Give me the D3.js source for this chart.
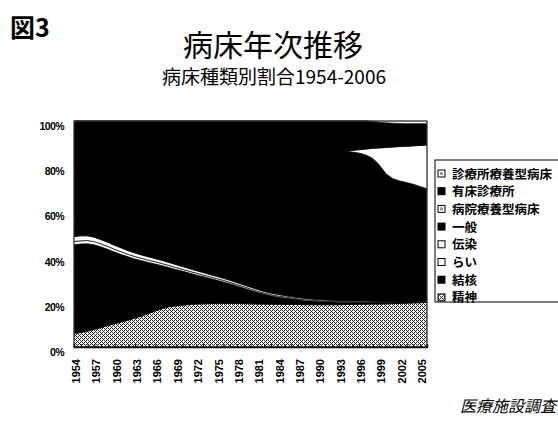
<!DOCTYPE html>
<html>
<head>
<meta charset="utf-8">
<script src="https://cdn.jsdelivr.net/npm/d3@7"></script>
<style>
  body { margin: 0; background: #fff; }
  text { font-family: "Noto Sans CJK JP", "Noto Sans", sans-serif; }
  .num { font-family: "Liberation Sans", Arial, sans-serif; font-weight: bold; }
</style>
</head>
<body>
<svg width="558" height="423"></svg>
<script>
const years = [1954, 1955, 1956, 1957, 1958, 1959, 1960, 1961, 1962, 1963,
  1964, 1965, 1966, 1967, 1968, 1969, 1970, 1971, 1972, 1973,
  1974, 1975, 1976, 1977, 1978, 1979, 1980, 1981, 1982, 1983,
  1984, 1985, 1986, 1987, 1988, 1989, 1990, 1991, 1992, 1993,
  1994, 1995, 1996, 1997, 1998, 1999, 2000, 2001, 2002, 2003,
  2004, 2005, 2006];
const tickYears = [1954, 1957, 1960, 1963, 1966, 1969, 1972, 1975, 1978,
  1981, 1984, 1987, 1990, 1993, 1996, 1999, 2002, 2005];
const yTicks = [0, 20, 40, 60, 80, 100];

// stacked from bottom to top
const seriesNames = ["精神", "結核", "らい", "伝染", "一般", "病院療養型病床", "有床診療所", "診療所療養型病床"];

// share of beds, %
const seishin = [6.0, 6.4, 7.0, 7.8, 8.6, 9.5, 10.3, 11.1, 11.9, 12.8,
  13.7, 14.8, 16.0, 17.0, 17.8, 18.2, 18.5, 18.8, 19.0, 19.1,
  19.2, 19.3, 19.3, 19.3, 19.3, 19.2, 19.1, 19.0, 19.0, 18.9,
  18.9, 18.8, 18.8, 18.8, 18.7, 18.7, 18.7, 18.7, 18.7, 18.7,
  18.8, 18.8, 18.9, 18.9, 19.0, 19.0, 19.1, 19.2, 19.3, 19.4,
  19.5, 19.6, 19.7];
const kekkaku = [39.3, 39.2, 38.7, 37.4, 35.7, 33.7, 31.7, 29.8, 28.0, 26.1,
  24.5, 22.6, 20.7, 19.0, 17.4, 16.1, 15.1, 13.9, 12.9, 12.1,
  11.2, 10.3, 9.5, 8.7, 7.7, 6.9, 6.0, 5.2, 4.4, 3.8,
  3.2, 2.9, 2.5, 2.1, 1.8, 1.6, 1.4, 1.3, 1.2, 1.1,
  1.0, 0.9, 0.8, 0.7, 0.8, 0.8, 0.7, 0.6, 0.6, 0.5,
  0.5, 0.4, 0.4];
const rai = [1.4, 1.4, 1.4, 1.4, 1.3, 1.3, 1.2, 1.2, 1.1, 1.1,
  1.0, 1.0, 1.0, 0.9, 0.9, 0.9, 0.8, 0.8, 0.8, 0.7,
  0.7, 0.7, 0.7, 0.6, 0.6, 0.6, 0.6, 0.5, 0.5, 0.5,
  0.5, 0.5, 0.4, 0.4, 0.4, 0.4, 0.4, 0.3, 0.3, 0.3,
  0.3, 0.3, 0.3, 0.3, 0.2, 0.2, 0.2, 0.2, 0.2, 0.2,
  0.2, 0.2, 0.2];
const densen = [2.2, 2.2, 2.1, 2.0, 1.9, 1.8, 1.8, 1.7, 1.6, 1.6,
  1.5, 1.5, 1.4, 1.4, 1.3, 1.3, 1.2, 1.2, 1.1, 1.1,
  1.0, 1.0, 0.9, 0.9, 0.9, 0.8, 0.8, 0.8, 0.7, 0.7,
  0.7, 0.6, 0.6, 0.6, 0.6, 0.5, 0.5, 0.5, 0.5, 0.5,
  0.4, 0.4, 0.4, 0.4, 0.3, 0.2, 0.2, 0.2, 0.1, 0.1,
  0.1, 0.1, 0.1];
const ippan = [31.1, 31.1, 31.3, 32.1, 33.3, 34.6, 36.0, 37.2, 38.5, 39.5,
  40.5, 41.4, 42.3, 43.2, 44.2, 45.2, 46.2, 47.3, 48.3, 49.3,
  50.4, 51.4, 52.5, 53.6, 54.8, 56.0, 57.2, 58.5, 59.7, 60.7,
  61.6, 62.4, 63.2, 63.9, 64.5, 65.0, 65.4, 65.7, 65.9, 66.1,
  66.2, 65.9, 65.4, 64.7, 63.2, 60.3, 56.3, 54.3, 53.3, 52.6,
  51.7, 50.7, 49.6];
const byoinRyoyo = [0, 0, 0, 0, 0, 0, 0, 0, 0, 0,
  0, 0, 0, 0, 0, 0, 0, 0, 0, 0,
  0, 0, 0, 0, 0, 0, 0, 0, 0, 0,
  0, 0, 0, 0, 0, 0, 0, 0, 0, 0,
  0, 0.7, 1.5, 2.6, 4.4, 7.6, 11.8, 14.0, 15.2, 16.0,
  17.0, 18.2, 19.4];
const yushoShinryo = [20.0, 19.7, 19.5, 19.3, 19.2, 19.1, 19.0, 19.0, 18.9, 18.9,
  18.8, 18.7, 18.6, 18.5, 18.4, 18.3, 18.2, 18.0, 17.9, 17.7,
  17.5, 17.3, 17.1, 16.9, 16.7, 16.5, 16.3, 16.0, 15.7, 15.4,
  15.1, 14.8, 14.5, 14.2, 14.0, 13.8, 13.6, 13.5, 13.4, 13.3,
  13.3, 13.0, 12.7, 12.4, 11.9, 11.4, 10.9, 10.5, 10.2, 10.0,
  9.8, 9.6, 9.4];
const shinryoRyoyo = [0, 0, 0, 0, 0, 0, 0, 0, 0, 0,
  0, 0, 0, 0, 0, 0, 0, 0, 0, 0,
  0, 0, 0, 0, 0, 0, 0, 0, 0, 0,
  0, 0, 0, 0, 0, 0, 0, 0, 0, 0,
  0, 0, 0, 0, 0.2, 0.5, 0.8, 1.0, 1.1, 1.2,
  1.2, 1.2, 1.2];

const seriesValues = [seishin, kekkaku, rai, densen, ippan, byoinRyoyo, yushoShinryo, shinryoRyoyo];
const table = years.map((yr, i) => {
  const row = { year: yr };
  seriesNames.forEach((k, j) => { row[k] = seriesValues[j][i]; });
  return row;
});

const svg = d3.select("svg");
const plotLeft = 74, plotRight = 427, plotTop = 121, plotBottom = 347;

// ordered-dither grey for the psychiatric band
const defs = svg.append("defs");
const pat = defs.append("pattern")
  .attr("id", "dither")
  .attr("width", 4).attr("height", 4)
  .attr("patternUnits", "userSpaceOnUse");
pat.append("rect").attr("width", 4).attr("height", 4).attr("fill", "#fff");
[[0, 0], [2, 0], [1, 1], [0, 2], [2, 2], [3, 3]].forEach(p => {
  pat.append("rect").attr("x", p[0]).attr("y", p[1])
    .attr("width", 1).attr("height", 1).attr("fill", "#222");
});

const fills = {
  "精神": "url(#dither)",
  "結核": "#000",
  "らい": "#fff",
  "伝染": "#fff",
  "一般": "#000",
  "病院療養型病床": "#fff",
  "有床診療所": "#000",
  "診療所療養型病床": "#fff"
};

const x = d3.scalePoint().domain(years).range([plotLeft, plotRight]);
const y = d3.scaleLinear().domain([0, 100]).range([plotBottom, plotTop]);

const stacked = d3.stack().keys(seriesNames)(table);
const area = d3.area()
  .x(d => x(d.data.year))
  .y0(d => y(d[0]))
  .y1(d => y(Math.min(d[1], 100)));

svg.append("g")
  .selectAll("path")
  .data(stacked)
  .join("path")
  .attr("d", area)
  .attr("fill", d => fills[d.key])
  .attr("stroke", "#000")
  .attr("stroke-width", 0.7);

// plot frame
svg.append("rect")
  .attr("x", plotLeft).attr("y", plotTop)
  .attr("width", plotRight - plotLeft).attr("height", plotBottom - plotTop)
  .attr("fill", "none")
  .attr("stroke", "#444")
  .attr("stroke-width", 1);

// x axis
const xAxis = d3.axisBottom(x).tickSize(-3).tickFormat("");
const xAxisG = svg.append("g")
  .attr("transform", `translate(0,${plotBottom})`)
  .call(xAxis);
xAxisG.select(".domain").attr("stroke", "#000").attr("stroke-width", 1.5);
xAxisG.selectAll(".tick line").attr("stroke", "#000");

svg.append("g")
  .selectAll("text")
  .data(tickYears)
  .join("text")
  .attr("class", "num")
  .attr("transform", d => `translate(${x(d) + 6},359) rotate(-90)`)
  .attr("text-anchor", "end")
  .style("font-size", "11px")
  .text(d => d);

// y labels
svg.append("g")
  .selectAll("text")
  .data(yTicks)
  .join("text")
  .attr("class", "num")
  .attr("x", 64)
  .attr("y", d => y(d) + 9)
  .attr("text-anchor", "end")
  .style("font-size", "10.5px")
  .style("letter-spacing", "-0.6px")
  .text(d => d + "%");

// titles
svg.append("text")
  .attr("x", 10).attr("y", 37)
  .style("font-size", "25px")
  .attr("font-weight", "bold")
  .text("図3");

svg.append("text")
  .attr("x", 273).attr("y", 56)
  .attr("text-anchor", "middle")
  .style("font-size", "30px")
  .text("病床年次推移");

svg.append("text")
  .attr("x", 274).attr("y", 84)
  .attr("text-anchor", "middle")
  .style("font-size", "19px")
  .text("病床種類別割合1954-2006");

svg.append("text")
  .attr("x", 556).attr("y", 412)
  .attr("text-anchor", "end")
  .style("font-size", "16px")
  .style("font-style", "italic")
  .text("医療施設調査");

// legend
const legendG = svg.append("g");
legendG.append("rect")
  .attr("x", 435).attr("y", 160)
  .attr("width", 140).attr("height", 142)
  .attr("fill", "#fff")
  .attr("stroke", "#000")
  .attr("stroke-width", 1);

const legendKeys = seriesNames.slice().reverse();
const item = legendG.selectAll("g.item")
  .data(legendKeys)
  .join("g")
  .attr("class", "item")
  .attr("transform", (d, i) => `translate(438,${174 + i * 17.7})`);
item.append("rect")
  .attr("x", 0).attr("y", -4)
  .attr("width", 7).attr("height", 7)
  .attr("fill", d => fills[d])
  .attr("stroke", "#000")
  .attr("stroke-width", 1);
item.filter(d => d === "病院療養型病床" || d === "診療所療養型病床")
  .append("rect")
  .attr("x", 2).attr("y", -2)
  .attr("width", 3).attr("height", 3)
  .attr("fill", "#999");
item.append("text")
  .attr("x", 14).attr("y", 4.5)
  .style("font-size", "12.5px")
  .attr("font-weight", "bold")
  .text(d => d);
</script>
</body>
</html>
